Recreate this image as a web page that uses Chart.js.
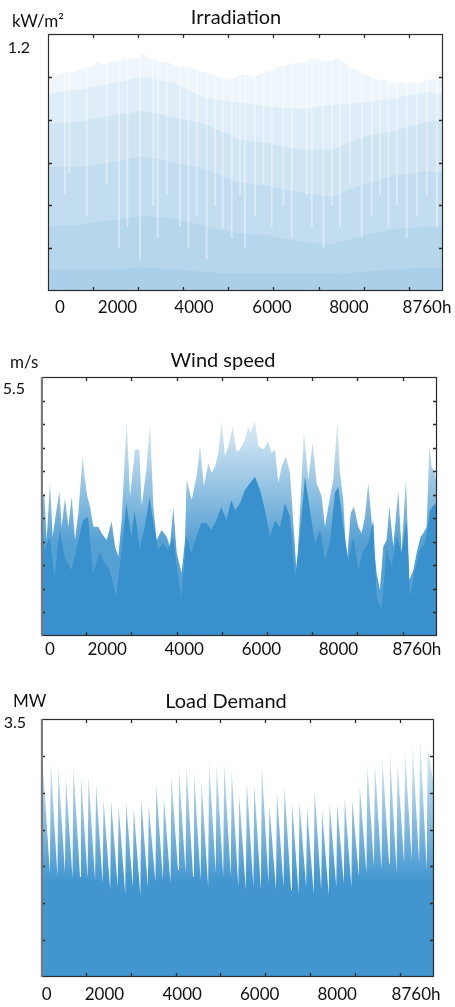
<!DOCTYPE html>
<html><head><meta charset="utf-8">
<script src="https://cdn.jsdelivr.net/npm/chart.js@4.4.1/dist/chart.umd.min.js"></script>
<style>
html,body{margin:0;padding:0;background:#fff;}
.wrap{position:absolute;left:0;width:455px;}
canvas{display:block;}
</style></head>
<body>
<div class="wrap" style="top:0;height:320px"><canvas id="c1"></canvas></div>
<div class="wrap" style="top:340px;height:330px"><canvas id="c2"></canvas></div>
<div class="wrap" style="top:680px;height:327px"><canvas id="c3"></canvas></div>
<script>
// ---------- shared axis data ----------
const hourTicks = [0,1000,2000,3000,4000,5000,6000,7000,8000];
const xLabels = ['0','2000','4000','6000','8000','8760h'];

// ---------- Irradiation (kW/m2) ----------
const irrMaxHours = [44,118,192,266,414,599,784,968,1116,1227,1449,1671,1892,2003,2114,2225,2410,2484,2632,2779,2927,3075,3223,3371,3519,3666,3814,3962,4110,4258,4406,4554,4701,4849,4997,5145,5293,5441,5588,5736,5847,6032,6180,6328,6475,6623,6771,6919,7067,7215,7363,7510,7658,7806,7954,8102,8250,8397,8545,8693,8760];
const irrMax = [0.977,1.000,1.008,1.016,1.024,1.024,1.039,1.047,1.070,1.055,1.070,1.078,1.086,1.091,1.109,1.086,1.078,1.063,1.070,1.055,1.047,1.047,1.039,1.024,1.024,1.008,1.000,0.985,0.992,1.008,1.008,1.000,1.008,1.024,1.031,1.047,1.055,1.063,1.063,1.070,1.086,1.078,1.070,1.078,1.086,1.055,1.039,1.024,1.008,0.992,0.985,0.985,0.969,0.977,0.969,0.977,0.969,0.985,0.992,0.985,0.985];
const irrBandHours = [0,700,1400,2100,2800,3500,4200,4900,5600,6300,7000,7700,8400,8760];
const irrBand2 = [0.92,0.94,0.97,1.00,0.97,0.90,0.88,0.86,0.85,0.87,0.88,0.90,0.93,0.92];
const irrBand3 = [0.78,0.79,0.82,0.84,0.81,0.78,0.71,0.69,0.66,0.66,0.72,0.75,0.79,0.80];
const irrBand4 = [0.58,0.58,0.60,0.63,0.60,0.57,0.51,0.49,0.46,0.44,0.50,0.54,0.56,0.55];
const irrBand5 = [0.30,0.31,0.33,0.35,0.34,0.30,0.27,0.26,0.23,0.22,0.26,0.29,0.30,0.30];
const irrBand6 = [0.10,0.10,0.10,0.11,0.10,0.09,0.08,0.08,0.08,0.08,0.09,0.10,0.11,0.11];
// low-irradiation days (light streaks): hour and the level they drop to
const irrLowDayHours = [377,473,858,1301,1575,1760,2041,2336,2433,2633,2928,3113,3298,3520,3704,3875,4074,4259,4369,4591,4776,4961,5220,5405,5738,5849,6107,6292,6477,6698,6958,7180,7364,7549,7734,7956,8178,8400,8621];
const irrLowDayLevel = [0.45,0.55,0.35,0.50,0.20,0.30,0.15,0.40,0.25,0.45,0.30,0.20,0.35,0.15,0.40,0.30,0.25,0.45,0.20,0.35,0.50,0.30,0.40,0.25,0.45,0.30,0.20,0.40,0.30,0.50,0.25,0.35,0.45,0.30,0.40,0.25,0.35,0.45,0.30];

// ---------- Wind speed (m/s) ----------
const windTopHours = [0,15,74,125,199,258,310,406,457,531,605,678,752,826,922,973,1025,1084,1158,1268,1342,1452,1563,1637,1711,1784,1895,1969,2079,2175,2227,2337,2411,2485,2558,2669,2780,2853,2927,3001,3111,3185,3222,3333,3443,3517,3605,3701,3775,3849,3922,3996,4070,4144,4239,4328,4402,4512,4586,4638,4733,4807,4918,5028,5102,5176,5250,5323,5419,5508,5581,5655,5729,5817,5913,6009,6097,6208,6282,6356,6466,6555,6614,6687,6761,6850,6923,7019,7093,7167,7240,7351,7424,7498,7572,7646,7705,7793,7904,7978,8073,8147,8236,8309,8398,8457,8531,8590,8641,8715,8760];
const windTop = [2.90,2.96,3.03,2.04,3.25,2.11,2.47,3.07,2.32,2.93,2.32,2.96,2.04,2.61,3.81,3.32,2.96,2.75,2.32,2.32,2.18,2.04,2.43,1.90,1.69,2.47,4.59,2.96,3.96,3.96,2.75,3.60,4.52,2.75,2.04,2.25,2.11,1.90,2.75,1.76,1.33,2.04,3.32,2.89,3.39,4.03,3.18,3.67,3.46,3.60,3.88,4.59,3.81,4.03,4.45,3.92,3.96,4.17,4.45,4.31,4.59,4.03,3.96,4.13,3.88,3.96,3.25,3.60,3.81,3.46,2.40,1.33,2.61,4.34,3.32,4.10,3.25,2.96,2.32,2.75,3.32,4.59,3.46,2.89,1.47,2.61,2.75,2.32,2.18,2.54,3.25,2.04,1.33,0.98,1.90,2.04,2.75,1.90,3.10,1.76,3.35,1.19,1.40,1.76,2.11,2.18,2.32,4.03,3.60,3.46,3.18];
const windSolidHours = [0,7,81,192,302,413,524,671,782,929,1040,1150,1298,1408,1519,1666,1777,1888,1998,2072,2183,2293,2404,2477,2588,2699,2809,2920,3031,3104,3215,3325,3436,3547,3657,3768,3878,3989,4100,4210,4291,4402,4512,4623,4734,4844,4955,5065,5176,5287,5397,5508,5618,5729,5840,5950,6061,6171,6282,6393,6503,6577,6688,6798,6909,7020,7130,7241,7351,7425,7536,7646,7757,7867,7978,8089,8162,8273,8383,8494,8605,8715,8760];
const windSolid = [2.40,2.46,1.83,2.10,1.25,2.25,1.68,1.40,1.83,2.46,2.53,1.34,1.76,1.55,1.40,0.83,1.76,2.82,2.10,2.67,1.83,2.31,2.95,2.46,1.83,1.97,1.83,2.10,1.25,0.83,2.10,1.76,2.10,2.40,2.40,2.25,2.46,2.74,2.46,2.89,2.67,2.82,3.10,3.25,3.38,3.10,2.67,2.10,2.46,2.31,2.82,2.53,1.25,2.10,3.38,2.67,1.97,2.25,1.61,1.97,3.04,3.17,2.31,1.61,2.10,1.40,1.83,1.97,2.46,0.83,0.55,1.83,1.47,2.10,1.76,2.46,0.83,1.40,1.83,1.97,2.67,2.82,2.70];

// ---------- Load demand (MW), one peak and one trough per week ----------
const loadPeak = [2.81,2.92,2.85,2.72,2.86,2.74,2.72,2.63,2.40,2.40,2.32,2.37,2.29,2.42,2.33,2.61,2.45,2.72,2.83,2.88,2.79,2.65,2.93,2.90,2.91,2.81,
                  2.47,2.66,2.61,2.88,2.33,2.51,2.59,2.38,2.37,2.29,2.54,2.25,2.35,2.35,2.42,2.41,2.59,2.88,2.90,2.97,3.07,2.92,3.07,3.16,3.26,3.10];
const loadTrough = [1.45,1.41,1.36,1.41,1.34,1.36,1.34,1.31,1.27,1.18,1.22,1.13,1.22,1.11,1.22,1.29,1.31,1.27,1.45,1.41,1.36,1.31,1.22,1.41,1.36,1.36,
                    1.22,1.18,1.22,1.18,1.27,1.18,1.22,1.18,1.13,1.22,1.13,1.18,1.11,1.22,1.27,1.22,1.36,1.41,1.49,1.45,1.54,1.41,1.54,1.58,1.54,1.45,2.60];

// ---------- helpers ----------
const BLUE = '56,144,204';
const toXY = (xs, ys) => xs.map((x, i) => ({x, y: ys[i]}));
const HOURS_PER_WEEK = 168;
function loadSeries() {
  const pts = [{x: 0, y: loadTrough[0]}];
  for (let k = 0; k < loadTrough.length; k++) {
    pts.push({x: Math.min(8760, k * HOURS_PER_WEEK + 30), y: loadTrough[k]});
    if (k < loadPeak.length) pts.push({x: k * HOURS_PER_WEEK + 50, y: loadPeak[k]});
  }
  return pts;
}
function vGrad(v0, a0, v1, a1, rgb) {
  return (c) => {
    const ch = c.chart;
    if (!ch.chartArea) return `rgba(${rgb},${a0})`;
    const y = ch.scales.y;
    const g = ch.ctx.createLinearGradient(0, y.getPixelForValue(v0), 0, y.getPixelForValue(v1));
    g.addColorStop(0, `rgba(${rgb},${a0})`);
    g.addColorStop(1, `rgba(${rgb},${a1})`);
    return g;
  };
}
function area(data, bg) {
  return {data, backgroundColor: bg, borderWidth: 0, borderColor: 'rgba(0,0,0,0)', pointRadius: 0, tension: 0, fill: 'origin'};
}

const framePlugin = {
  id: 'frame',
  afterDatasetsDraw(chart, args, o) {
    const {ctx, chartArea: a, scales: {x, y}} = chart;
    ctx.save();
    ctx.strokeStyle = '#2b2b2b';
    ctx.lineWidth = 1.3;
    const len = 4;
    ctx.beginPath();
    hourTicks.forEach(h => {
      const px = Math.round(x.getPixelForValue(h)) + 0.5;
      if (px <= a.left + 1 || px >= a.right - 1) return;
      ctx.moveTo(px, a.top); ctx.lineTo(px, a.top + len);
      ctx.moveTo(px, a.bottom); ctx.lineTo(px, a.bottom - len);
    });
    y.ticks.forEach(t => {
      const py = Math.round(y.getPixelForValue(t.value)) + 0.5;
      if (py <= a.top + 1 || py >= a.bottom - 1) return;
      ctx.moveTo(a.left, py); ctx.lineTo(a.left + len, py);
      ctx.moveTo(a.right, py); ctx.lineTo(a.right - len, py);
    });
    ctx.stroke();
    ctx.lineWidth = 1.2;
    ctx.strokeRect(a.left + 0.5, a.top + 0.5, a.right - a.left - 1, a.bottom - a.top - 1);
    if (o.leftGray) {
      ctx.strokeStyle = '#7a7a7a';
      ctx.lineWidth = 2;
      ctx.beginPath(); ctx.moveTo(a.left + 1, a.top); ctx.lineTo(a.left + 1, a.bottom); ctx.stroke();
    }
    ctx.restore();
  },
  afterDraw(chart, args, o) {
    const ctx = chart.ctx;
    ctx.save();
    ctx.fillStyle = '#111';
    ctx.textBaseline = 'alphabetic';
    ctx.font = '20px Lato';
    ctx.textAlign = 'center';
    ctx.fillText(o.title, o.titleX, o.titleY);
    ctx.font = '17px Lato';
    ctx.textAlign = 'left';
    ctx.fillText(o.unit, o.unitX, o.unitY);
    ctx.restore();
  }
};

function makeChart(id, p) {
  return new Chart(document.getElementById(id), {
    type: 'line',
    data: {datasets: p.datasets},
    plugins: [framePlugin],
    options: {
      responsive: true, maintainAspectRatio: false, animation: false,
      events: [],
      layout: {padding: {top: p.T, right: 455 - p.R, left: 0, bottom: 0}},
      plugins: {legend: {display: false}, tooltip: {enabled: false}, title: {display: false},
        frame: {title: p.title, unit: p.unit, titleX: p.titleX, titleY: p.titleY, unitX: p.unitX, unitY: p.unitY, leftGray: p.leftGray}},
      scales: {
        x: {
          type: 'linear', min: 0, max: 8760, offset: false,
          grid: {display: false, offset: false}, border: {display: false},
          afterBuildTicks: s => { s.ticks = p.labelHours.map(v => ({value: v})); },
          afterFit: s => { s.height = p.H - p.B; },
          ticks: {autoSkip: false, maxRotation: 0, minRotation: 0, padding: p.xPad, color: '#111',
                  font: {family: 'Lato', size: 17}, callback: (v, i) => xLabels[i]}
        },
        y: {
          min: 0, max: p.yMax,
          grid: {display: false}, border: {display: false},
          afterFit: s => { s.width = p.L; },
          ticks: {stepSize: p.yStep, padding: p.yPad, labelOffset: p.yOff, color: '#111',
                  font: {family: 'Lato', size: 16},
                  callback: v => Math.abs(v - p.yMax) < 1e-9 ? p.yMax.toFixed(1) : ''}
        }
      }
    }
  });
}

const irrC = '60,145,205';
makeChart('c1', {
  H: 320, L: 48, R: 443, T: 34, B: 291, yMax: 1.2, yStep: 0.2, yPad: 10, yOff: 14, xPad: -2,
  labelHours: [266,1541,3238,4968,6675,8405],
  title: 'Irradiation', unit: 'kW/m²', titleX: 236, titleY: 24, unitX: 12, unitY: 27, leftGray: false,
  datasets: [
    {type: 'bar', data: irrLowDayHours.map((h, i) => ({x: h, y: [irrLowDayLevel[i], 1.2]})),
     backgroundColor: 'rgba(255,255,255,0.42)', borderWidth: 0, barThickness: 1.2, grouped: false},
    area(toXY(irrBandHours, irrBand6), `rgba(${irrC},0.095)`),
    area(toXY(irrBandHours, irrBand5), `rgba(${irrC},0.095)`),
    area(toXY(irrBandHours, irrBand4), `rgba(${irrC},0.095)`),
    area(toXY(irrBandHours, irrBand3), `rgba(${irrC},0.095)`),
    area(toXY(irrBandHours, irrBand2), `rgba(${irrC},0.095)`),
    area(toXY(irrMaxHours, irrMax), `rgba(${irrC},0.085)`)
  ]
});
makeChart('c2', {
  H: 330, L: 41, R: 437, T: 37, B: 296, yMax: 5.5, yStep: 0.5, yPad: 8, yOff: 12, xPad: -5,
  labelHours: [199,1464,3168,4875,6579,8315],
  title: 'Wind speed', unit: 'm/s', titleX: 223, titleY: 27, unitX: 10, unitY: 28, leftGray: true,
  datasets: [
    area(toXY(windSolidHours, windSolid), `rgb(${BLUE})`),
    area(toXY(windTopHours, windTop), vGrad(2.0, 0.85, 4.8, 0.1, BLUE))
  ]
});
makeChart('c3', {
  H: 327, L: 41, R: 434, T: 39, B: 297, yMax: 3.5, yStep: 0.5, yPad: 7, yOff: 4, xPad: -1,
  labelHours: [127,1415,3147,4874,6603,8359],
  title: 'Load Demand', unit: 'MW', titleX: 226, titleY: 28, unitX: 13, unitY: 27, leftGray: true,
  datasets: [
    area(loadSeries(), vGrad(1.3, 0.95, 3.2, 0.12, BLUE))
  ]
});
</script>
</body></html>
